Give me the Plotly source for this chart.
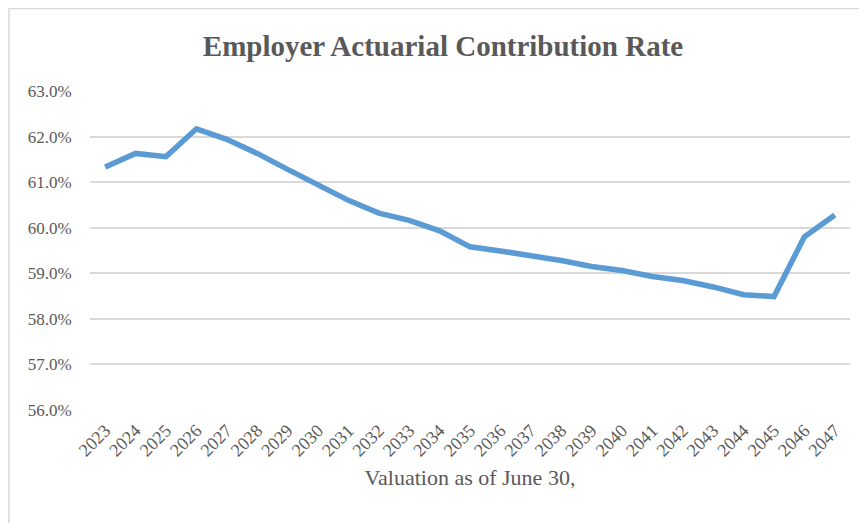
import plotly.graph_objects as go

years = [str(y) for y in range(2023, 2048)]
rates = [61.33, 61.63, 61.56, 62.17, 61.94, 61.63, 61.28, 60.94, 60.60, 60.32,
         60.16, 59.93, 59.58, 59.49, 59.40, 59.28, 59.15, 59.06, 58.93, 58.84,
         58.70, 58.53, 58.49, 59.80, 60.28]
y_ticks = [56, 57, 58, 59, 60, 61, 62, 63]
y_tick_labels = [f"{v:.1f}%" for v in y_ticks]

# page body has an 8px margin, so the figure sits at (8, 8) in the window
OFF = 8
W, H = 867, 523
L, R, T, B = 90 - OFF, 17 + OFF, 91 - OFF, 113 + OFF
pw, ph = W - L - R, H - T - B

fig = go.Figure(go.Scatter(
    x=years, y=rates, mode="lines",
    line=dict(color="#5B9BD5", width=5.5, shape="linear"),
    hoverinfo="x+y",
))

font = "Liberation Serif, Times New Roman, serif"
fig.update_layout(
    width=W, height=H,
    margin=dict(l=L, r=R, t=T, b=B),
    paper_bgcolor="white", plot_bgcolor="white",
    showlegend=False,
    title=dict(text="<b>Employer Actuarial Contribution Rate</b>",
               x=(443 - OFF) / W, xanchor="center", y=1 - (46 - OFF) / H, yanchor="middle",
               font=dict(family=font, size=29, color="#595959")),
    xaxis=dict(type="category", range=[-0.5, len(years) - 0.5], automargin=False,
               tickangle=-45, showgrid=False, zeroline=False,
               showline=False, ticks="outside", ticklen=2, tickcolor="white",
               tickfont=dict(family=font, size=18, color="#595959"),
               title=dict(text="Valuation as of June 30,", standoff=10,
                          font=dict(family=font, size=22, color="#595959"))),
    yaxis=dict(range=[56, 63], tickvals=y_ticks, ticktext=y_tick_labels,
               automargin=False,
               showgrid=True, gridcolor="#D9D9D9", gridwidth=1.5, zeroline=False,
               showline=False, ticks="outside", ticklen=14, tickcolor="white",
               tickfont=dict(family=font, size=17, color="#595959")),
    shapes=[dict(type="rect", xref="paper", yref="paper",
                 x0=(9 - OFF - L) / pw, x1=(W + 20 - L) / pw,
                 y0=(H - B - (H + 20)) / ph, y1=(H - B - 0.5) / ph,
                 line=dict(color="#D9D9D9", width=1.5), fillcolor="rgba(0,0,0,0)",
                 layer="below")],
)

fig.write_html("out.html")
